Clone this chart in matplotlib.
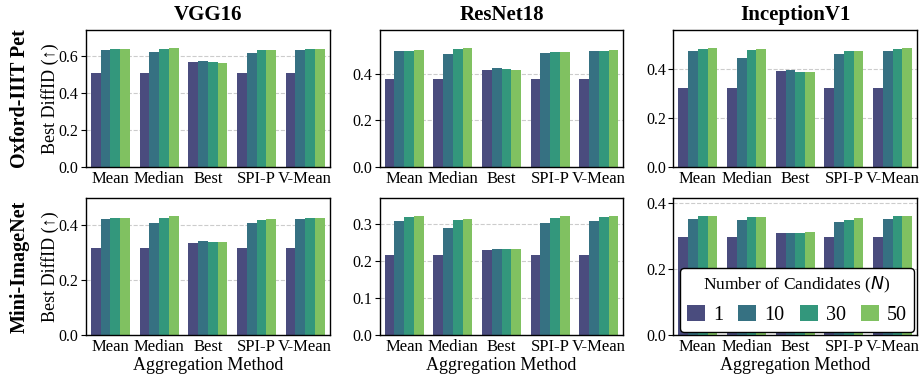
import matplotlib
matplotlib.use("Agg")
import matplotlib.pyplot as plt
import seaborn as sns
from matplotlib.patches import Patch
from matplotlib.ticker import MultipleLocator

plt.rcParams["font.family"] = ["Liberation Serif", "DejaVu Serif"]
plt.rcParams["mathtext.fontset"] = "dejavusans"

methods = ["Mean", "Median", "Best", "SPI-P", "V-Mean"]
candidates = [1, 10, 30, 50]
models = ["VGG16", "ResNet18", "InceptionV1"]
datasets = ["Oxford-IIIT Pet", "Mini-ImageNet"]

# one row per N (1, 10, 30, 50), one column per aggregation method
vgg16_pet = [
    [0.504, 0.504, 0.566, 0.504, 0.504],
    [0.629, 0.620, 0.571, 0.614, 0.629],
    [0.634, 0.634, 0.566, 0.630, 0.634],
    [0.634, 0.641, 0.561, 0.630, 0.634],
]
resnet18_pet = [
    [0.378, 0.378, 0.417, 0.378, 0.378],
    [0.499, 0.486, 0.426, 0.491, 0.499],
    [0.499, 0.508, 0.422, 0.495, 0.499],
    [0.504, 0.512, 0.417, 0.495, 0.504],
]
inception_pet = [
    [0.324, 0.324, 0.393, 0.324, 0.324],
    [0.475, 0.446, 0.397, 0.462, 0.475],
    [0.483, 0.479, 0.389, 0.475, 0.483],
    [0.487, 0.483, 0.389, 0.475, 0.487],
]
vgg16_mini = [
    [0.319, 0.319, 0.337, 0.319, 0.319],
    [0.424, 0.410, 0.344, 0.410, 0.424],
    [0.428, 0.428, 0.341, 0.421, 0.428],
    [0.428, 0.435, 0.341, 0.424, 0.428],
]
resnet18_mini = [
    [0.217, 0.217, 0.231, 0.217, 0.217],
    [0.309, 0.290, 0.234, 0.304, 0.309],
    [0.320, 0.312, 0.234, 0.317, 0.320],
    [0.323, 0.314, 0.234, 0.323, 0.323],
]
inception_mini = [
    [0.298, 0.298, 0.308, 0.298, 0.298],
    [0.352, 0.349, 0.308, 0.343, 0.352],
    [0.361, 0.358, 0.308, 0.349, 0.361],
    [0.361, 0.358, 0.311, 0.355, 0.361],
]

panels = [
    [vgg16_pet, resnet18_pet, inception_pet],
    [vgg16_mini, resnet18_mini, inception_mini],
]
tick_steps = [[0.2, 0.2, 0.2], [0.2, 0.1, 0.2]]

colors = sns.color_palette("viridis", len(candidates), desat=0.75)
bar_w = 0.2

fig, axes = plt.subplots(2, 3, figsize=(9.21, 3.79), dpi=100)
fig.subplots_adjust(left=0.0934, right=0.9957, top=0.9208, bottom=0.1161,
                    wspace=0.206, hspace=0.226)

for r, row in enumerate(panels):
    for c, vals in enumerate(row):
        ax = axes[r, c]
        top = max(max(v) for v in vals)
        for j, n_vals in enumerate(vals):
            xs = [i + (j - 1.5) * bar_w for i in range(len(methods))]
            ax.bar(xs, n_vals, width=bar_w, color=colors[j], zorder=2)
        ax.set_xlim(-0.5, len(methods) - 0.5)
        ax.set_ylim(0, top * 1.15)
        ax.yaxis.set_major_locator(MultipleLocator(tick_steps[r][c]))
        ax.set_xticks(range(len(methods)))
        ax.set_xticklabels(methods)
        ax.tick_params(axis="x", length=0, labelsize=12, pad=3)
        ax.tick_params(axis="y", length=3.5, width=0.8, labelsize=11.5, pad=2)
        ax.grid(axis="y", linestyle="--", color="#cccccc", linewidth=0.8, zorder=0)
        ax.set_axisbelow(True)
        for sp in ax.spines.values():
            sp.set_color("black")
            sp.set_linewidth(1.0)
        if r == 0:
            ax.set_title(models[c], fontsize=15, fontweight="bold", pad=7)
        if r == 1:
            ax.set_xlabel("Aggregation Method", fontsize=13, labelpad=1)
        if c == 0:
            ax.set_ylabel("Best DiffID (↑)", fontsize=13, labelpad=0)
            pos = ax.get_position()
            fig.text(20 / 921, (pos.y0 + pos.y1) / 2, datasets[r], rotation=90,
                     ha="center", va="center", fontsize=14.5, fontweight="bold")

handles = [Patch(facecolor=colors[j], label=str(n)) for j, n in enumerate(candidates)]
leg = axes[1, 2].legend(handles=handles, title="Number of Candidates ($N$)",
                        loc="lower right", ncol=4, fontsize=14.5, title_fontsize=12.5,
                        handlelength=0.9, handleheight=0.8, handletextpad=0.4,
                        columnspacing=0.75, borderaxespad=0.15, borderpad=0.35,
                        framealpha=1, edgecolor="black", fancybox=True)
leg.get_frame().set_linewidth(1.0)
leg.set_zorder(5)

fig.savefig("out.png", dpi=100)
